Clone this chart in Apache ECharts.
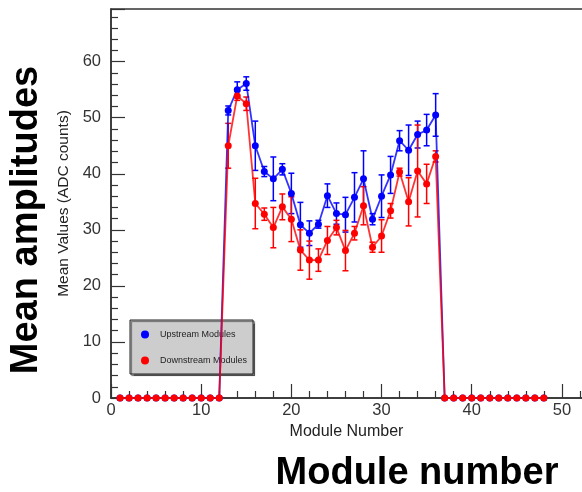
<!DOCTYPE html>
<html>
<head>
<meta charset="utf-8">
<script src="https://cdn.jsdelivr.net/npm/echarts@6/dist/echarts.min.js"></script>
<style>html,body{margin:0;padding:0;background:#fff;}#c{width:582px;height:492px;}</style>
</head>
<body>
<div id="c"></div>
<script>
const modules = [1,2,3,4,5,6,7,8,9,10,11,12,13,14,15,16,17,18,19,20,21,22,23,24,25,26,27,28,29,30,31,32,33,34,35,36,37,38,39,40,41,42,43,44,45,46,47,48];
const upstream = [0,0,0,0,0,0,0,0,0,0,0,0, 51.3,55.0,56.1,45.0,40.4,39.1,40.8,36.5,30.9,29.4,31.0,36.1,32.9,32.7,35.8,39.1,31.9,36.0,39.8,45.9,44.2,47.0,47.8,50.5, 0,0,0,0,0,0,0,0,0,0,0,0];
const upstreamErr = [0,0,0,0,0,0,0,0,0,0,0,0, 0.8,1.4,1.2,4.4,0.9,3.9,1.0,3.6,4.0,2.2,0.7,2.1,1.9,3.1,4.4,5.0,1.0,3.8,3.3,1.8,4.5,2.4,2.8,3.8, 0,0,0,0,0,0,0,0,0,0,0,0];
const downstream = [0,0,0,0,0,0,0,0,0,0,0,0, 45.0,53.9,52.5,34.7,32.8,30.4,34.1,31.9,26.4,24.6,24.6,28.1,30.4,26.3,29.4,34.3,26.9,28.9,33.4,40.3,35.0,40.5,38.2,43.1, 0,0,0,0,0,0,0,0,0,0,0,0];
const downstreamErr = [0,0,0,0,0,0,0,0,0,0,0,0, 4.0,0.8,1.2,4.5,1.1,3.6,2.3,4.0,3.6,3.4,2.0,2.5,1.3,3.6,1.2,3.4,0.9,2.9,1.3,0.7,4.3,8.2,3.5,1.0, 0,0,0,0,0,0,0,0,0,0,0,0];
const seriesNames = ['Upstream Modules', 'Downstream Modules'];
const xTitle = 'Module Number';
const yTitle = 'Mean Values (ADC counts)';
const bigY = 'Mean amplitudes';
const bigX = 'Module number';

const FONT = 'Liberation Sans, Arial, sans-serif';
const chart = echarts.init(document.getElementById('c'), null, {renderer: 'canvas'});

function errSeries(name, vals, errs, color) {
  return {
    name: name, type: 'custom', z: 3,
    data: modules.map((m, i) => [m, vals[i], errs[i]]),
    renderItem: function (params, api) {
      const x = api.value(0), y = api.value(1), e = api.value(2);
      if (!e) return null;
      const top = api.coord([x, y + e]);
      const bot = api.coord([x, y - e]);
      const w = 3;
      const st = {stroke: color, lineWidth: 1.5};
      return {type: 'group', children: [
        {type: 'line', shape: {x1: top[0], y1: top[1], x2: bot[0], y2: bot[1]}, style: st},
        {type: 'line', shape: {x1: top[0] - w, y1: top[1], x2: top[0] + w, y2: top[1]}, style: st},
        {type: 'line', shape: {x1: bot[0] - w, y1: bot[1], x2: bot[0] + w, y2: bot[1]}, style: st}
      ]};
    }
  };
}
function lineSeries(name, vals, color, z) {
  return {
    name: name, type: 'line', z: z,
    data: modules.map((m, i) => [m, vals[i]]),
    symbol: 'circle', symbolSize: 7, showSymbol: true,
    itemStyle: {color: color},
    lineStyle: {color: color, width: 1.8, opacity: 0.8}
  };
}

chart.setOption({
  animation: false,
  grid: {left: 111, top: 9, height: 389, width: 496, outerBoundsMode: 'none', containLabel: false, show: true, borderColor: '#333', borderWidth: 1.5, backgroundColor: 'transparent'},
  xAxis: {
    type: 'value', min: 0, max: 55, interval: 10,
    name: xTitle, nameLocation: 'middle', nameGap: 22,
    nameTextStyle: {fontFamily: FONT, fontSize: 16, color: '#222', padding: [0, 25, 0, 0]},
    axisLine: {show: true, lineStyle: {color: '#333', width: 1.5}},
    axisTick: {show: true, inside: true, length: 14, lineStyle: {color: '#333', width: 1.2}},
    minorTick: {show: true, splitNumber: 5, length: 7, lineStyle: {color: '#333', width: 1.2}},
    axisLabel: {fontFamily: FONT, fontSize: 16.5, color: '#333', margin: 4, showMaxLabel: false},
    splitLine: {show: false}
  },
  yAxis: {
    type: 'value', min: 0, max: 69.4, interval: 10,
    name: yTitle, nameLocation: 'middle', nameGap: 32, nameRotate: 90,
    nameTextStyle: {fontFamily: FONT, fontSize: 15.5, color: '#222'},
    axisLine: {show: true, lineStyle: {color: '#333', width: 1.5}},
    axisTick: {show: true, inside: true, length: 14, lineStyle: {color: '#333', width: 1.2}},
    minorTick: {show: true, splitNumber: 5, length: 7, lineStyle: {color: '#333', width: 1.2}},
    axisLabel: {fontFamily: FONT, fontSize: 16.5, color: '#333', margin: 10, showMaxLabel: false},
    splitLine: {show: false}
  },
  legend: {
    data: seriesNames, left: 130, top: 320, orient: 'vertical',
    backgroundColor: '#cdcdcd', borderColor: '#222', borderWidth: 1,
    padding: [10, 6, 9, 11], itemGap: 17, itemWidth: 8, itemHeight: 8, icon: 'circle',
    textStyle: {fontFamily: FONT, fontSize: 9, color: '#222', padding: [0, 0, 0, 6]},
    shadowColor: 'rgba(0,0,0,0.5)', shadowOffsetX: 1.5, shadowOffsetY: 1.5, shadowBlur: 1
  },
  graphic: [
    {type: 'text', x: 27, y: 220, rotation: Math.PI / 2,
     style: {text: bigY, font: 'bold 38px ' + FONT, fill: '#000', textAlign: 'center', textVerticalAlign: 'middle'}},
    {type: 'text', x: 417, y: 474,
     style: {text: bigX, font: 'bold 38px ' + FONT, fill: '#000', textAlign: 'center', textVerticalAlign: 'middle'}}
  ],
  series: [
    errSeries('up-err', upstream, upstreamErr, '#0000ff'),
    lineSeries(seriesNames[0], upstream, '#0000ff', 4),
    errSeries('down-err', downstream, downstreamErr, '#ff0000'),
    lineSeries(seriesNames[1], downstream, '#ff0000', 6)
  ]
});
</script>
</body>
</html>
